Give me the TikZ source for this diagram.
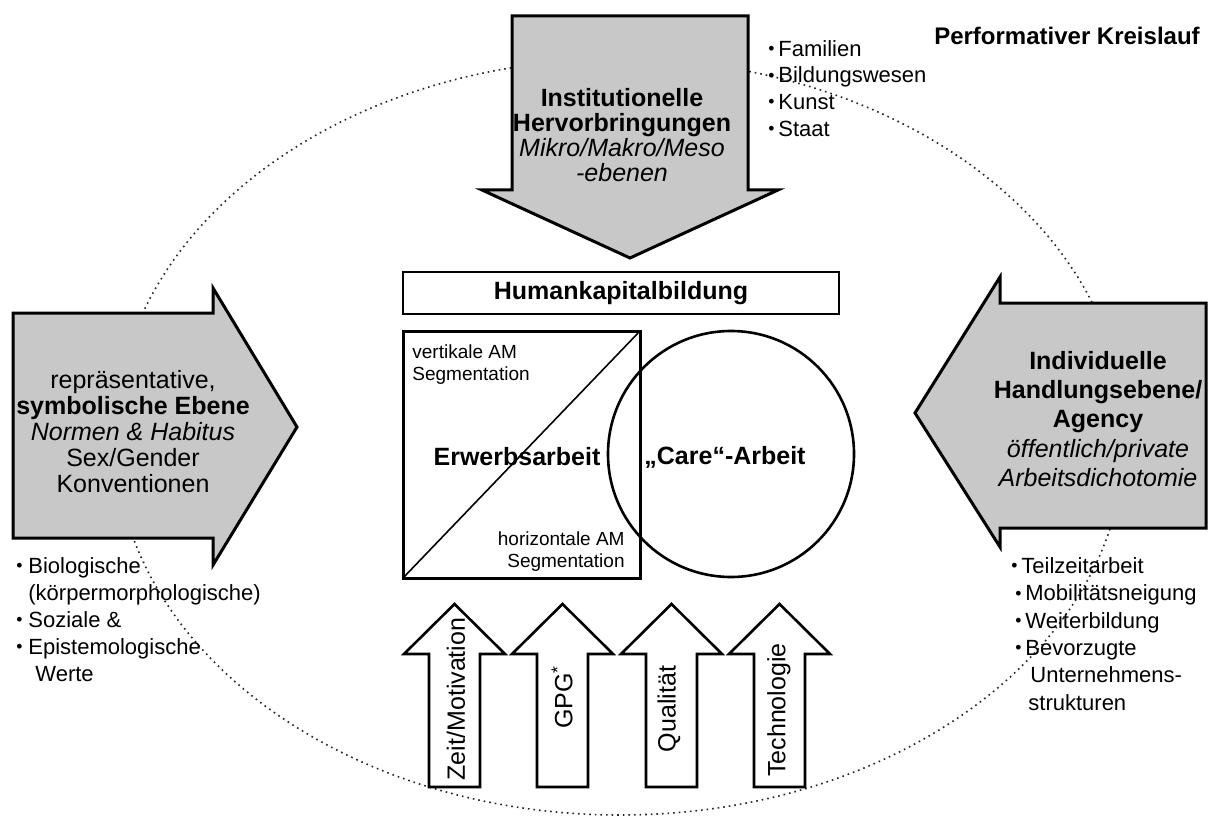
\documentclass[tikz,border=0pt]{standalone}
\usepackage{fontspec}
\setmainfont{Liberation Sans}
\definecolor{arrowgray}{RGB}{200,200,200}
\newcommand\bul[1][5pt]{\makebox[#1][l]{\raisebox{0.15ex}{\scalebox{0.8}{•}}}}
\begin{document}
\begin{tikzpicture}[x=0.5pt,y=-0.5pt,
  bigarrow/.style={fill=arrowgray,draw=black,line width=1.5pt,line join=miter},
  uparrow/.style={fill=white,draw=black,line width=1.3pt,line join=miter},
  bigtxt/.style={align=center,inner sep=0pt},
  listtxt/.style={align=left,inner sep=0pt,anchor=north west,font=\fontsize{11}{13.5}\selectfont},
  smalltxt/.style={inner sep=0pt,font=\fontsize{9.5}{11}\selectfont},
  boldtxt/.style={inner sep=0pt,font=\fontsize{12.5}{13}\selectfont\bfseries},
  vtxt/.style={inner sep=0pt,rotate=90,font=\fontsize{12.5}{13}\selectfont},
  kreis/.style={draw=black!85,dotted,line width=0.8pt}]
\fill[white] (0,0) rectangle (1209,818);
\useasboundingbox (0,0) rectangle (1209,818);

% performative cycle
\draw[kreis] (620,437) ellipse [x radius=252.5pt,y radius=189pt];

% big grey arrows
\draw[bigarrow] (512,16) -- (748,16) -- (748,190) -- (778,190) -- (630,258) -- (482,190) -- (512,190) -- cycle;
\draw[bigarrow] (13,313) -- (213,313) -- (213,288) -- (297,427) -- (213,565) -- (213,538) -- (13,538) -- cycle;
\draw[bigarrow] (1206,303) -- (1000,303) -- (1000,277) -- (915,413) -- (1000,547) -- (1000,528) -- (1206,528) -- cycle;

% bottom arrows
\foreach \cx in {454.5,562.5,671.5,779.5}{
  \draw[uparrow] (\cx-25.5,787) -- (\cx-25.5,654) -- (\cx-50.5,654) -- (\cx,604)
     -- (\cx+50.5,654) -- (\cx+25.5,654) -- (\cx+25.5,787) -- cycle;
}

% central box, square and circle
\draw[line width=1.3pt] (403,272) rectangle (839,314);
\draw[line width=1.5pt] (403,331) rectangle (640,578);
\draw[line width=0.8pt] (403,578) -- (640,331);
\draw[line width=1.3pt] (731,454) circle [radius=61.5pt];

% texts
\node[bigtxt,font=\fontsize{12.5}{12.6}\selectfont] (inst) at (622,135)
  {\textbf{Institutionelle}\\\textbf{Hervorbringungen}\\\textit{Mikro/Makro/Meso}\\\textit{-ebenen}};
\node[bigtxt,font=\fontsize{12.5}{13}\selectfont] (symb) at (133,432)
  {repräsentative,\\\textbf{symbolische Ebene}\\\textit{Normen \& Habitus}\\Sex/Gender\\Konventionen};
\node[bigtxt,font=\fontsize{12.5}{14.7}\selectfont] (indiv) at (1098,419)
  {\textbf{Individuelle}\\\textbf{Handlungsebene/}\\\textbf{Agency}\\\textit{öffentlich/private}\\\textit{Arbeitsdichotomie}};

\node[inner sep=0pt,font=\fontsize{12}{13}\selectfont\bfseries] (title) at (1067,36) {Performativer Kreislauf};
\node[boldtxt] (hk) at (621,293) {Humankapitalbildung};
\node[boldtxt] (erw) at (517,457) {Erwerbsarbeit};
\node[boldtxt] (care) at (725,457) {„Care“-Arbeit};
\node[smalltxt,align=left,anchor=north west] (vert) at (412,344) {vertikale AM\\Segmentation};
\node[smalltxt,align=right,anchor=north east] (hori) at (625,531) {horizontale AM\\Segmentation};

\node[listtxt,font=\fontsize{11}{13.3}\selectfont] (ltop) at (768,40)
  {\bul Familien\\\bul Bildungswesen\\\bul Kunst\\\bul Staat};
\node[listtxt] (lleft) at (16,557)
  {\bul[6pt]Biologische\\\hspace*{6pt}(körpermorphologische)\\\bul[6pt]Soziale \&\\\bul[6pt]Epistemologische\\\hspace*{9.5pt}Werte};
\node[listtxt,font=\fontsize{11}{13.7}\selectfont] (lright) at (1011,557)
  {\bul Teilzeitarbeit\\\hspace*{2pt}\bul Mobilitätsneigung\\\hspace*{2pt}\bul Weiterbildung\\\hspace*{2pt}\bul Bevorzugte\\\hspace*{9.5pt}Unternehmens-\\\hspace*{8.5pt}strukturen};

\node[vtxt] (zeit) at (456,699) {Zeit/Motivation};
\node[vtxt] (gpg) at (562,697) {GPG\textsuperscript{*}};
\node[vtxt] (qual) at (669,709) {Qualität};
\node[vtxt] (tech) at (779,710) {Technologie};
\end{tikzpicture}
\end{document}
